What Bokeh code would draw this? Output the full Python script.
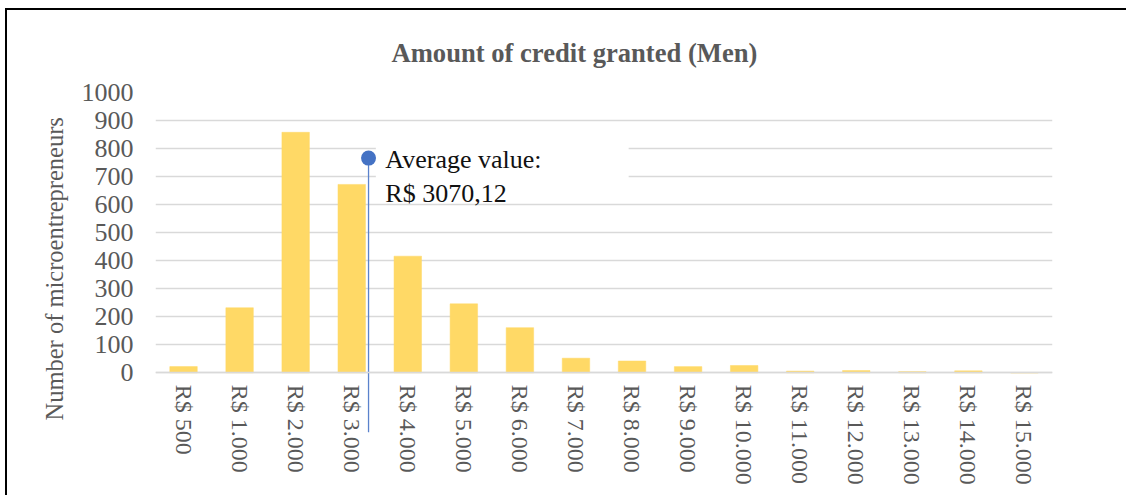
import math
from bokeh.plotting import figure
from bokeh.models import Range1d, FixedTicker, Title, ColumnDataSource
from bokeh.core.properties import value
from bokeh.embed import file_html
from bokeh.resources import INLINE

# ---- data ----
categories = ["R$ 500", "R$ 1.000", "R$ 2.000", "R$ 3.000", "R$ 4.000", "R$ 5.000",
              "R$ 6.000", "R$ 7.000", "R$ 8.000", "R$ 9.000", "R$ 10.000", "R$ 11.000",
              "R$ 12.000", "R$ 13.000", "R$ 14.000", "R$ 15.000"]
counts = [22, 232, 858, 672, 416, 246, 161, 52, 42, 22, 26, 6, 8, 4, 7, 0]
y_ticks = [0, 100, 200, 300, 400, 500, 600, 700, 800, 900, 1000]
avg_lines = ["Average value:", "R$ 3070,12"]

# annotation (data label with leader line) placement
leader_x = 3.30
leader_top = 766
leader_bottom = -212
label_x = 3.60
label_y = [762, 641]
box = dict(left=3.43, right=7.94, bottom=633, top=847)

FONT = "Liberation Serif"
GREY = "#595959"

idx = list(range(len(categories)))
src = ColumnDataSource(dict(x=idx, top=counts))

p = figure(width=1121, height=487, output_backend="svg", toolbar_location=None,
           x_range=Range1d(-0.5, 15.5), y_range=Range1d(-445, 1000),
           min_border_left=148, min_border_right=76, min_border_top=82,
           min_border_bottom=0)
p.margin = (8, 0, 0, 5)
p.styles = {"border-left": "2px solid #000", "border-top": "2px solid #000"}
p.outline_line_color = None
p.background_fill_color = "white"
p.border_fill_color = "white"

# title
p.title.text = "Amount of credit granted (Men)"
p.title.align = "left"
p.title.text_font = FONT
p.title.text_font_size = "26.6px"
p.title.text_font_style = "bold"
p.title.text_color = GREY
p.title.offset = 236
p.title.standoff = 50

# y axis title
p.add_layout(Title(text="Number of microentrepreneurs", align="left",
                   text_font=FONT, text_font_size="24.5px", text_font_style="normal",
                   text_color=GREY, offset=77, standoff=21), "left")

# grid
p.xgrid.visible = False
p.ygrid.grid_line_color = "#D9D9D9"
p.ygrid.grid_line_width = 1.4

# y axis
ya = p.yaxis[0]
ya.ticker = FixedTicker(ticks=y_ticks)
ya.axis_line_color = None
ya.major_tick_line_color = None
ya.minor_tick_line_color = None
ya.major_tick_out = 0
ya.major_tick_in = 0
ya.major_label_standoff = 22
ya.major_label_text_font = FONT
ya.major_label_text_font_size = "26px"
ya.major_label_text_color = GREY

# x axis
xa = p.xaxis[0]
xa.ticker = FixedTicker(ticks=idx)
xa.major_label_overrides = {i: c for i, c in zip(idx, categories)}
xa.major_label_orientation = -math.pi / 2
xa.fixed_location = 0
xa.axis_line_color = "#D9D9D9"
xa.axis_line_width = 1.4
xa.major_tick_line_color = None
xa.minor_tick_line_color = None
xa.major_tick_out = 0
xa.major_tick_in = 0
xa.major_label_standoff = 12
xa.major_label_text_font = FONT
xa.major_label_text_font_size = "24px"
xa.major_label_text_color = GREY

# bars
p.vbar(x="x", top="top", width=0.49, source=src, fill_color="#FFD966",
       line_color="#FFD966", line_width=0.5)

# data label box + leader line
p.quad(left=[box["left"]], right=[box["right"]], bottom=[box["bottom"]], top=[box["top"]],
       fill_color="white", line_color=None)
p.segment(x0=[leader_x], y0=[leader_top], x1=[leader_x], y1=[leader_bottom],
          line_color="#5B82CC", line_width=1.3)
p.scatter(x=[leader_x], y=[leader_top], size=15, fill_color="#4472C4", line_color=None)
p.text(x=[label_x, label_x], y=label_y, text=avg_lines, text_font=value(FONT),
       text_font_size="26px", text_color="#111111", text_baseline="alphabetic",
       text_align="left")

open("out.html", "w").write(file_html(p, INLINE))
